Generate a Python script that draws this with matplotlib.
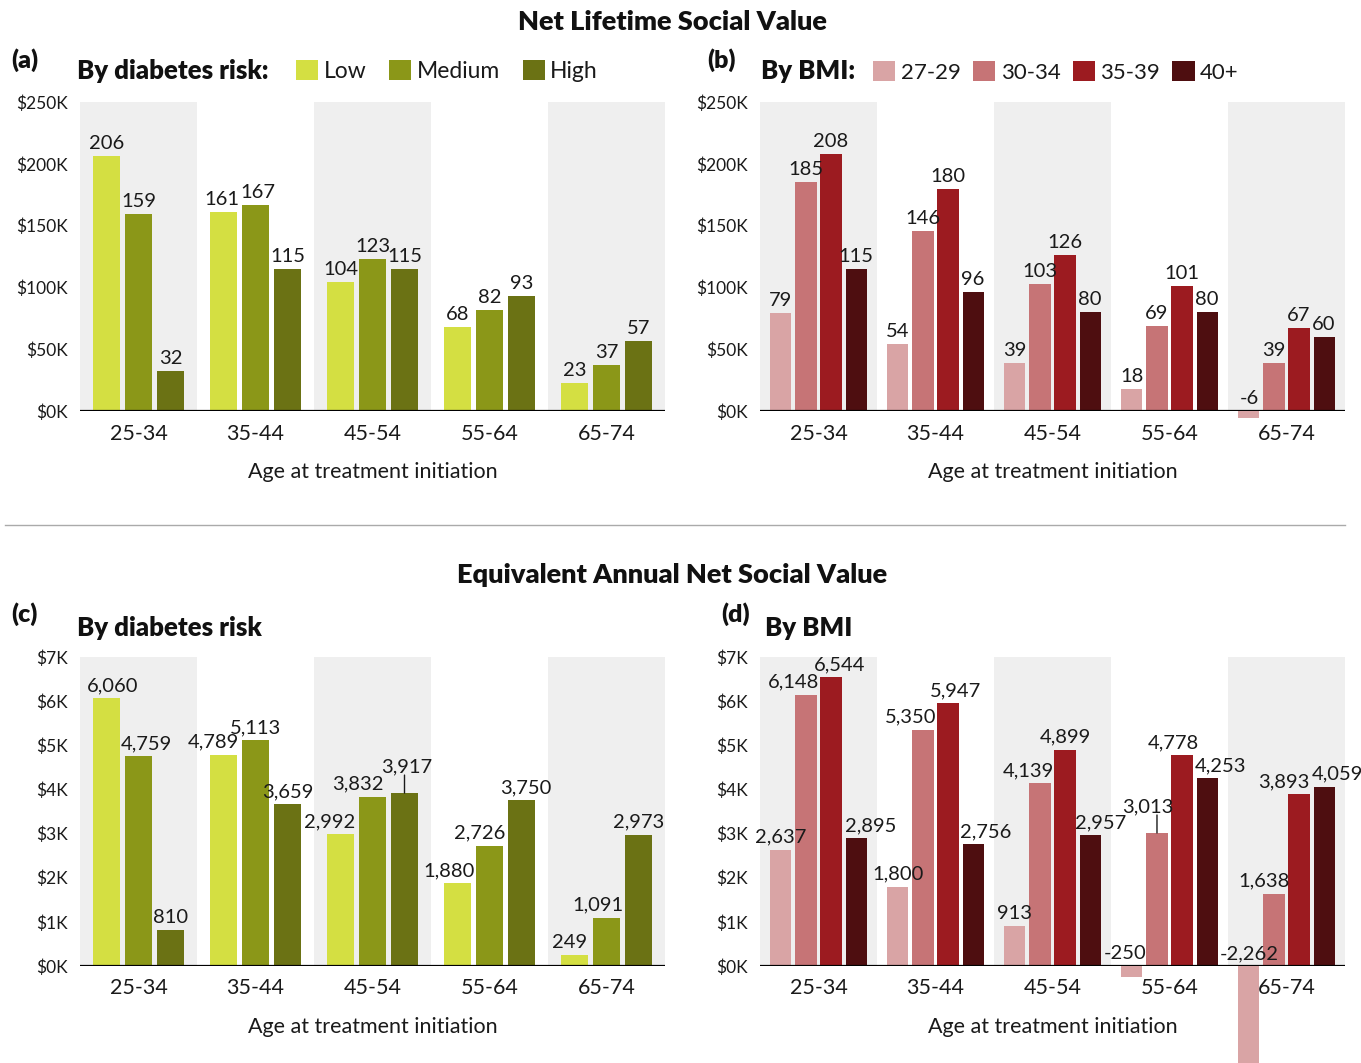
import matplotlib
matplotlib.use("Agg")
import matplotlib.pyplot as plt
import numpy as np

plt.rcParams['font.family'] = ['Lato', 'DejaVu Sans']

# ---------------- data ----------------
age_groups = ["25-34", "35-44", "45-54", "55-64", "65-74"]

risk_labels = ["Low", "Medium", "High"]
lifetime_risk_low = [206, 161, 104, 68, 23]
lifetime_risk_medium = [159, 167, 123, 82, 37]
lifetime_risk_high = [32, 115, 115, 93, 57]

bmi_labels = ["27-29", "30-34", "35-39", "40+"]
lifetime_bmi_27_29 = [79, 54, 39, 18, -6]
lifetime_bmi_30_34 = [185, 146, 103, 69, 39]
lifetime_bmi_35_39 = [208, 180, 126, 101, 67]
lifetime_bmi_40p = [115, 96, 80, 80, 60]

annual_risk_low = [6060, 4789, 2992, 1880, 249]
annual_risk_medium = [4759, 5113, 3832, 2726, 1091]
annual_risk_high = [810, 3659, 3917, 3750, 2973]

annual_bmi_27_29 = [2637, 1800, 913, -250, -2262]
annual_bmi_30_34 = [6148, 5350, 4139, 3013, 1638]
annual_bmi_35_39 = [6544, 5947, 4899, 4778, 3893]
annual_bmi_40p = [2895, 2756, 2957, 4253, 4059]

lifetime_ticks = [0, 50, 100, 150, 200, 250]
lifetime_ticklabels = ["$0K", "$50K", "$100K", "$150K", "$200K", "$250K"]
annual_ticks = [0, 1000, 2000, 3000, 4000, 5000, 6000, 7000]
annual_ticklabels = ["$0K", "$1K", "$2K", "$3K", "$4K", "$5K", "$6K", "$7K"]

# ---------------- style ----------------
risk_colors = ["#d4df42", "#8b9718", "#6b7214"]
bmi_colors = ["#d9a4a5", "#c67476", "#9c1b20", "#4e0e10"]
band_color = "#efefef"

# label nudges in pixels: (panel, group, series) -> (dx, dy, leader)
nudges = {
    ("a", 1, 0): (-2, 0, False),
    ("a", 1, 1): (2, 0, False),
    ("c", 1, 0): (-10, 0, False),
    ("c", 2, 0): (-11, 0, False),
    ("c", 2, 1): (-15, 0, False),
    ("c", 2, 2): (2, 14, True),
    ("c", 3, 0): (-8, 0, False),
    ("c", 3, 1): (-10, 0, False),
    ("c", 3, 2): (4, 0, False),
    ("c", 4, 0): (-5, 0, False),
    ("c", 4, 1): (-9, 0, False),
    ("c", 0, 0): (6, 0, False),
    ("c", 0, 1): (8, 0, False),
    ("d", 0, 1): (-12, 0, False),
    ("d", 0, 2): (9, 0, False),
    ("d", 0, 3): (15, 0, False),
    ("d", 1, 1): (-12, 0, False),
    ("d", 1, 2): (7, 0, False),
    ("d", 1, 3): (13, 0, False),
    ("d", 2, 1): (-12, 0, False),
    ("d", 2, 3): (11, 0, False),
    ("d", 3, 0): (-7, 0, False),
    ("d", 3, 1): (-9, 14, True),
    ("d", 3, 2): (-9, 0, False),
    ("d", 3, 3): (13, 0, False),
    ("d", 4, 1): (-10, 0, False),
    ("d", 4, 2): (-15, 0, False),
    ("d", 4, 3): (13, 0, False),
}

PX = 72.0 / 100.0  # pixels -> points

W, H = 1361, 1063
fig = plt.figure(figsize=(W / 100, H / 100), dpi=100)


def fx(px):
    return px / W


def fy(py):
    return 1 - py / H


def make_axes(left_px, top_px, bottom_px, right_px):
    return fig.add_axes([fx(left_px), fy(bottom_px), (right_px - left_px) / W,
                         (bottom_px - top_px) / H])


def draw_panel(ax, key, series, colors, names, ticks, ticklabels, fmt,
               width, step):
    n_groups = len(age_groups)
    x = np.arange(n_groups)
    ax.set_xlim(-0.5, n_groups - 0.5)
    ax.set_ylim(ticks[0], ticks[-1])
    for i in range(0, n_groups, 2):
        ax.axvspan(i - 0.5, i + 0.5, color=band_color, zorder=0, lw=0)
    k = len(series)
    offsets = (np.arange(k) - (k - 1) / 2) * step
    handles = []
    for j, (vals, col, name) in enumerate(zip(series, colors, names)):
        bars = ax.bar(x + offsets[j], vals, width=width, color=col,
                      label=name, zorder=2, clip_on=False)
        handles.append(bars)
        for g, v in enumerate(vals):
            dx, dy, leader = nudges.get((key, g, j), (0, 0, False))
            top = max(v, 0)
            ax.annotate(fmt(v), xy=(x[g] + offsets[j], top),
                        xytext=(dx * PX, (4 + dy) * PX),
                        textcoords="offset points", ha="center", va="bottom",
                        fontsize=14.5, color="#1a1a1a", zorder=4)
            if leader:
                ax.annotate("", xy=(x[g] + offsets[j], top),
                            xytext=(0, (4 + dy) * PX),
                            textcoords="offset points",
                            arrowprops=dict(arrowstyle="-", color="#1a1a1a",
                                            lw=1.0, shrinkA=0, shrinkB=0))
    ax.axhline(0, color="black", lw=1.6, zorder=3)
    for s in ax.spines.values():
        s.set_visible(False)
    ax.set_yticks(ticks)
    ax.set_yticklabels(ticklabels, fontsize=12.5, color="#1a1a1a")
    ax.set_xticks(x)
    ax.set_xticklabels(age_groups, fontsize=15.5, color="#1a1a1a")
    ax.tick_params(axis="y", length=0, pad=9)
    ax.tick_params(axis="x", length=0, pad=9)
    ax.set_xlabel("Age at treatment initiation", fontsize=15.5,
                  color="#1a1a1a", labelpad=13)
    ax.set_facecolor("white")
    return handles


def kfmt(v):
    return f"{v:,}"


ax_a = make_axes(80, 102, 411, 665)
ax_b = make_axes(760, 102, 411, 1345)
ax_c = make_axes(80, 657, 966, 665)
ax_d = make_axes(760, 657, 966, 1345)

h_a = draw_panel(ax_a, "a", [lifetime_risk_low, lifetime_risk_medium, lifetime_risk_high],
                 risk_colors, risk_labels, lifetime_ticks, lifetime_ticklabels, kfmt,
                 0.23, 0.2735)
h_b = draw_panel(ax_b, "b", [lifetime_bmi_27_29, lifetime_bmi_30_34, lifetime_bmi_35_39,
                             lifetime_bmi_40p],
                 bmi_colors, bmi_labels, lifetime_ticks, lifetime_ticklabels, kfmt,
                 0.18, 0.214)
draw_panel(ax_c, "c", [annual_risk_low, annual_risk_medium, annual_risk_high],
           risk_colors, risk_labels, annual_ticks, annual_ticklabels, kfmt,
           0.23, 0.2735)
draw_panel(ax_d, "d", [annual_bmi_27_29, annual_bmi_30_34, annual_bmi_35_39,
                       annual_bmi_40p],
           bmi_colors, bmi_labels, annual_ticks, annual_ticklabels, kfmt,
           0.18, 0.214)

# ---------------- titles / headers ----------------
tc = "#111111"
fig.text(fx(672), fy(22), "Net Lifetime Social Value", ha="center", va="center",
         fontsize=19.5, fontweight="heavy", color=tc)
fig.text(fx(672), fy(575), "Equivalent Annual Net Social Value", ha="center",
         va="center", fontsize=19.5, fontweight="heavy", color=tc)

hk = dict(va="center", fontweight="heavy", color=tc)
fig.text(fx(11), fy(60), "(a)", ha="left", fontsize=18, **hk)
fig.text(fx(77), fy(71), "By diabetes risk:", ha="left", fontsize=18.5, **hk)
fig.text(fx(707), fy(60), "(b)", ha="left", fontsize=18, **hk)
fig.text(fx(761), fy(71), "By BMI:", ha="left", fontsize=18.5, **hk)
fig.text(fx(11), fy(614), "(c)", ha="left", fontsize=18, **hk)
fig.text(fx(77), fy(628), "By diabetes risk", ha="left", fontsize=18.5, **hk)
fig.text(fx(721), fy(614), "(d)", ha="left", fontsize=18, **hk)
fig.text(fx(765), fy(628), "By BMI", ha="left", fontsize=18.5, **hk)

leg_kw = dict(frameon=False, handletextpad=0.25, borderpad=0,
              borderaxespad=0, loc="center left", labelcolor="#1a1a1a")
fig.legend(handles=h_a, labels=risk_labels, ncol=3, fontsize=16.5,
           handlelength=0.95, handleheight=0.95, columnspacing=1.0,
           bbox_to_anchor=(fx(296), fy(71)), **leg_kw)
fig.legend(handles=h_b, labels=bmi_labels, ncol=4, fontsize=16,
           handlelength=1.0, handleheight=1.0, columnspacing=0.55,
           bbox_to_anchor=(fx(873), fy(72)), **leg_kw)

# separator line
fig.add_artist(plt.Line2D([fx(5), fx(1345)], [fy(525), fy(525)],
                          color="#aaaaaa", lw=1.0))

fig.savefig("out.png", dpi=100, facecolor="white")
